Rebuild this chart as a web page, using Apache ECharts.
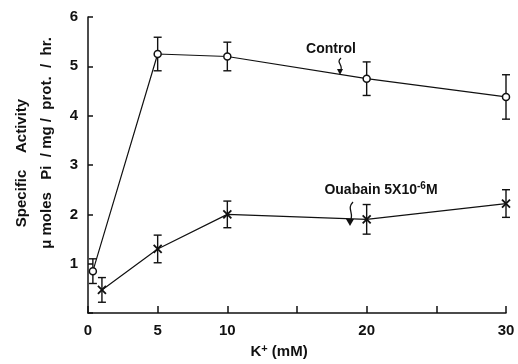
<!DOCTYPE html>
<html><head><meta charset="utf-8">
<script src="https://cdn.jsdelivr.net/npm/echarts@6/dist/echarts.min.js"></script>
<style>html,body{margin:0;padding:0;background:#fff}#c{width:518px;height:364px}</style>
</head><body><div id="c"></div>
<script>
const xTicks = [0, 5, 10, 15, 20, 25, 30];
const xLabels = ['0', '5', '10', '', '20', '', '30'];
const yLabels = ['', '1', '2', '3', '4', '5', '6'];
const controlX = [0.35, 5, 10, 20, 30];
const controlY = [0.85, 5.25, 5.2, 4.75, 4.38];
const controlErr = [0.25, 0.34, 0.29, 0.34, 0.45];
const ouabainX = [1, 5, 10, 20, 30];
const ouabainY = [0.47, 1.3, 2.0, 1.9, 2.22];
const ouabainErr = [0.25, 0.28, 0.27, 0.3, 0.28];

const FONT = 'Liberation Sans';
const chart = echarts.init(document.getElementById('c'));

function errSeries(xs, ys, es) {
  return {
    type: 'custom',
    data: xs.map((x, i) => [x, ys[i] - es[i], ys[i] + es[i]]),
    renderItem: function (params, api) {
      const lo = api.coord([api.value(0), api.value(1)]);
      const hi = api.coord([api.value(0), api.value(2)]);
      const w = 4;
      const st = { stroke: '#111', lineWidth: 1.4 };
      return { type: 'group', children: [
        { type: 'line', shape: { x1: lo[0], y1: lo[1], x2: hi[0], y2: hi[1] }, style: st },
        { type: 'line', shape: { x1: lo[0] - w, y1: lo[1], x2: lo[0] + w, y2: lo[1] }, style: st },
        { type: 'line', shape: { x1: hi[0] - w, y1: hi[1], x2: hi[0] + w, y2: hi[1] }, style: st }
      ]};
    },
    z: 3, silent: true
  };
}

chart.setOption({
  backgroundColor: '#fff',
  animation: false,
  grid: { left: 88, right: 12, top: 17, bottom: 41 },
  xAxis: {
    type: 'value', min: 0, max: 30, interval: 5,
    axisLine: { lineStyle: { color: '#111', width: 1.5 } },
    axisTick: { inside: true, length: 7, lineStyle: { color: '#111', width: 1.5 } },
    splitLine: { show: false },
    axisLabel: { margin: 10, color: '#111', fontFamily: FONT, fontSize: 15, fontWeight: 'bold',
      formatter: v => xLabels[xTicks.indexOf(v)] || '' },
    name: '{b|K}{s|+}{b| (mM)}', nameLocation: 'middle', nameGap: 27,
    nameTextStyle: { color: '#111', fontFamily: FONT, fontSize: 15, fontWeight: 'bold', padding: [0, 36, 0, 0],
      rich: { b: { fontFamily: FONT, fontSize: 15, fontWeight: 'bold', color: '#111' },
              s: { fontFamily: FONT, fontSize: 11, fontWeight: 'bold', color: '#111', verticalAlign: 'top', padding: [0, 0, 6, 0] } } }
  },
  yAxis: {
    type: 'value', min: 0, max: 6, interval: 1,
    axisLine: { show: true, lineStyle: { color: '#111', width: 1.5 } },
    axisTick: { show: true, inside: true, length: 5, lineStyle: { color: '#111', width: 1.5 } },
    splitLine: { show: false },
    axisLabel: { margin: 10, color: '#111', fontFamily: FONT, fontSize: 15, fontWeight: 'bold',
      formatter: v => yLabels[v] || '' }
  },
  series: [
    { type: 'line', data: controlX.map((x, i) => [x, controlY[i]]),
      symbol: 'circle', symbolSize: 7, showSymbol: true,
      lineStyle: { color: '#111', width: 1.2 },
      itemStyle: { color: '#fff', borderColor: '#111', borderWidth: 1.5 }, z: 4 },
    { type: 'line', data: ouabainX.map((x, i) => [x, ouabainY[i]]),
      symbol: 'path://M0,0L10,10M10,0L0,10', symbolSize: 8, showSymbol: true,
      lineStyle: { color: '#111', width: 1.2 },
      itemStyle: { color: '#111', borderColor: '#111', borderWidth: 1.8 }, z: 4 },
    errSeries(controlX, controlY, controlErr),
    errSeries(ouabainX, ouabainY, ouabainErr)
  ]
});

const textStyle = { fill: '#111', font: 'bold 14px "Liberation Sans"', textAlign: 'center', textVerticalAlign: 'middle' };
const rich = {
  n: { fontFamily: FONT, fontSize: 14, fontWeight: 'bold', color: '#111' },
  s: { fontFamily: FONT, fontSize: 10, fontWeight: 'bold', color: '#111', verticalAlign: 'top', padding: [0, 0, 7, 0] }
};
chart.setOption({
  graphic: [
    { type: 'text', x: 22, y: 163, rotation: Math.PI / 2,
      style: Object.assign({}, textStyle, { text: 'Specific    Activity', font: 'bold 15px "Liberation Sans"' }) },
    { type: 'text', x: 47, y: 143, rotation: Math.PI / 2,
      style: Object.assign({}, textStyle, { text: '\u03BC moles   Pi  / mg /  prot.  /  hr.', font: 'bold 15px "Liberation Sans"' }) },
    { type: 'text', x: 331, y: 49, style: Object.assign({}, textStyle, { text: 'Control', font: 'bold 14px "Liberation Sans"' }) },
    { type: 'bezierCurve', shape: { x1: 341, y1: 58, x2: 340, y2: 72, cpx1: 335, cpy1: 63, cpx2: 345, cpy2: 65 },
      style: { stroke: '#111', lineWidth: 1.3, fill: null } },
    { type: 'polygon', shape: { points: [[337, 69], [343, 69], [340, 75]] }, style: { fill: '#111' } },
    { type: 'text', x: 381, y: 190, style: Object.assign({}, textStyle, { text: '{n|Ouabain 5X10}{s|-6}{n|M}', rich: rich }) },
    { type: 'bezierCurve', shape: { x1: 353, y1: 202, x2: 350, y2: 222, cpx1: 346, cpy1: 209, cpx2: 355, cpy2: 213 },
      style: { stroke: '#111', lineWidth: 1.3, fill: null } },
    { type: 'polygon', shape: { points: [[346, 219], [354, 219], [350, 226]] }, style: { fill: '#111' } }
  ]
});
</script></body></html>
